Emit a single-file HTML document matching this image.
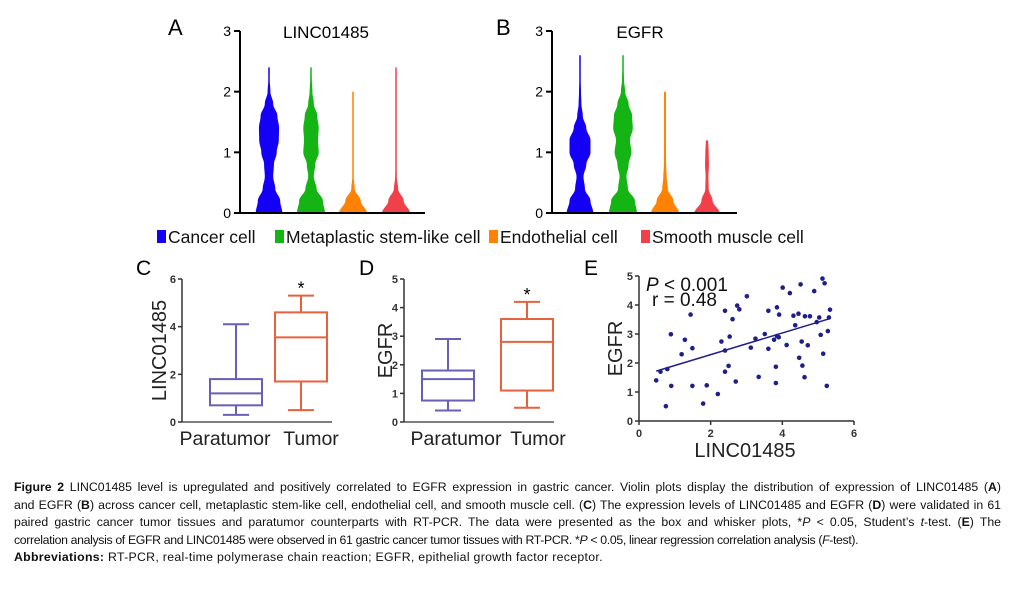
<!DOCTYPE html>
<html><head><meta charset="utf-8"><style>
body{margin:0;background:#fff;width:1013px;height:594px;overflow:hidden;position:relative;font-family:"Liberation Sans",Arial,sans-serif}
svg{position:absolute;left:0;top:0}
.cap{position:absolute;left:14px;width:987px;font-size:12.3px;line-height:17.5px;color:#111;white-space:nowrap}
.j{text-align:justify;text-align-last:justify;white-space:normal}
</style></head><body>
<svg id="fig" width="1013" height="594" viewBox="0 0 1013 594" font-family="Liberation Sans, Arial, sans-serif"></svg>
<div class="cap j" style="top:479px"><b>Figure 2</b> LINC01485 level is upregulated and positively correlated to EGFR expression in gastric cancer. Violin plots display the distribution of expression of LINC01485 (<b>A</b>)</div>
<div class="cap j" style="top:496.5px">and EGFR (<b>B</b>) across cancer cell, metaplastic stem-like cell, endothelial cell, and smooth muscle cell. (<b>C</b>) The expression levels of LINC01485 and EGFR (<b>D</b>) were validated in 61</div>
<div class="cap j" style="top:514px">paired gastric cancer tumor tissues and paratumor counterparts with RT-PCR. The data were presented as the box and whisker plots, *<i>P</i> &lt; 0.05, Student’s <i>t</i>-test. (<b>E</b>) The</div>
<div class="cap" style="top:531.5px;letter-spacing:-0.35px">correlation analysis of EGFR and LINC01485 were observed in 61 gastric cancer tumor tissues with RT-PCR. *<i>P</i> &lt; 0.05, linear regression correlation analysis (<i>F</i>-test).</div>
<div class="cap" style="top:549px;letter-spacing:0.3px"><b>Abbreviations:</b> RT-PCR, real-time polymerase chain reaction; EGFR, epithelial growth factor receptor.</div>
<script>
// ---- data ----
const cellTypes = ["Cancer cell","Metaplastic stem-like cell","Endothelial cell","Smooth muscle cell"];
const cellColors = ["#1400f5","#14b414","#ff8205","#f2404a"];
// violin width profiles sampled every 0.2 units from 0 (relative half-width)
const violinA = [
 [0.95,0.8,0.45,0.3,0.35,0.55,0.7,0.72,0.6,0.3,0.1,0.05,0.03],
 [1.0,0.85,0.4,0.2,0.3,0.55,0.5,0.55,0.45,0.2,0.1,0.06,0.04],
 [1.0,0.55,0.12,0.05,0.04,0.04,0.04,0.04,0.04,0.04,0.04],
 [1.0,0.55,0.15,0.06,0.05,0.05,0.05,0.05,0.05,0.05,0.05,0.05,0.05]
];
const violinB = [
 [0.95,0.75,0.35,0.25,0.45,0.75,0.75,0.45,0.2,0.1,0.07,0.05,0.04,0.03],
 [1.0,0.85,0.35,0.25,0.4,0.6,0.5,0.7,0.65,0.4,0.15,0.07,0.05,0.03],
 [1.0,0.6,0.2,0.12,0.08,0.07,0.07,0.07,0.07,0.07,0.07],
 [0.9,0.4,0.12,0.1,0.14,0.12,0.08]
];
const violinTicks = [0,1,2,3];
const boxGroups = ["Paratumor","Tumor"];
// [min, q1, median, q3, max]
const boxC = [[0.3,0.7,1.2,1.8,4.1],[0.5,1.7,3.55,4.6,5.3]];
const boxD = [[0.4,0.75,1.5,1.8,2.9],[0.5,1.1,2.8,3.6,4.2]];
const ticksC = [0,2,4,6];
const ticksD = [0,1,2,3,4,5];
const scatterX = [0.48,0.6,0.75,0.79,0.89,0.9,1.19,1.28,1.44,1.49,1.49,1.79,1.89,2.2,2.3,2.4,2.4,2.4,2.5,2.53,2.61,2.7,2.74,2.8,3.01,3.12,3.25,3.34,3.51,3.61,3.61,3.77,3.82,3.82,3.85,3.85,3.9,3.91,4.01,4.12,4.21,4.31,4.36,4.45,4.47,4.51,4.54,4.56,4.62,4.63,4.71,4.77,4.89,4.96,5.03,5.07,5.12,5.14,5.18,5.24,5.27,5.3,5.33];
const scatterY = [1.4,1.7,0.51,1.79,2.99,1.21,2.3,2.8,3.67,2.51,1.21,0.6,1.23,0.93,2.74,3.8,2.43,1.7,1.9,2.91,3.51,1.36,3.98,3.85,4.3,2.53,2.84,1.52,3.0,3.8,2.49,2.8,1.31,1.87,3.92,2.93,2.89,3.67,4.6,2.62,4.41,3.63,3.3,3.7,2.18,4.71,2.74,1.91,1.51,3.61,2.61,3.61,4.48,3.41,3.57,2.97,4.91,2.32,4.75,1.21,3.1,3.57,3.84];
const ticksEx = [0,2,4,6];
const ticksEy = [0,1,2,3,4,5];

// ---- helpers ----
const svg = document.getElementById('fig');
const NS = "http://www.w3.org/2000/svg";
function mk(tag, attrs, parent, text){
  const e = document.createElementNS(NS, tag);
  for (const k in attrs) e.setAttribute(k, attrs[k]);
  if (text !== undefined) e.textContent = text;
  (parent || svg).appendChild(e);
  return e;
}

// ---- violin panels ----
function violinPanel(opt){
  const g = mk('g', {});
  
  
  const y = v => opt.y0 - v * (opt.y0 - opt.y3) / 3;
  const lab = mk('text', {x: opt.letterX, y: 35, 'font-size': 22}, g, opt.letter);
  
  
  const t = mk('text', {x: opt.titleX, y: 38, 'font-size': 17, 'text-anchor': 'middle'}, g, opt.title);
  
  
  opt.data.forEach((prof, i) => {
    const cx = opt.centers[i];
    const hw = 14;
    const pts = [];
    for (let k = 0; k < prof.length - 1; k++) {
      for (let s = 0; s < 10; s++) {
        const f = s / 10, c = (1 - Math.cos(Math.PI * f)) / 2;
        const w = prof[k] * (1 - c) + prof[k+1] * c;
        pts.push([Math.max(w * hw, 0.75), y((k + f) * 0.2)]);
      }
    }
    pts.push([0.75, y((prof.length - 1) * 0.2)]);
    let d = '';
    pts.forEach((p, k) => { d += (k ? 'L' : 'M') + (cx + p[0]).toFixed(2) + ',' + p[1].toFixed(2); });
    for (let k = pts.length - 1; k >= 0; k--) d += 'L' + (cx - pts[k][0]).toFixed(2) + ',' + pts[k][1].toFixed(2);
    d += 'Z';
    const v = mk('path', {d, fill: cellColors[i]}, g);
    
    
  });
  mk('line', {x1: opt.ax, y1: y(3), x2: opt.ax, y2: y(0)+1, stroke: '#000', 'stroke-width': 2}, g);
  mk('line', {x1: opt.ax, y1: y(0), x2: opt.xEnd, y2: y(0), stroke: '#000', 'stroke-width': 2}, g);
  violinTicks.forEach(tk => {
    mk('line', {x1: opt.ax - 6, y1: y(tk), x2: opt.ax, y2: y(tk), stroke: '#000', 'stroke-width': 2}, g);
    const tl = mk('text', {x: opt.ax - 9, y: y(tk) + 5, 'font-size': 14, 'text-anchor': 'end'}, g, tk);
    
    
  });
}
violinPanel({name:'violin-panel-a', letter:'A', letterX:168, title:'LINC01485', titleX:326, ax:240, xEnd:425, y0:213, y3:31, centers:[269,311,353,396], data:violinA});
violinPanel({name:'violin-panel-b', letter:'B', letterX:496, title:'EGFR', titleX:640, ax:552, xEnd:737, y0:213, y3:31, centers:[580,623,665,707], data:violinB});

// legend
const legX = [157, 275, 489, 641];
cellTypes.forEach((c, i) => {
  const g = mk('g', {});
  
  
  mk('rect', {x: legX[i], y: 230, width: 9, height: 13, fill: cellColors[i]}, g);
  mk('text', {x: legX[i] + 11, y: 243, 'font-size': 17.5, fill: '#111'}, g, c);
});

// ---- box panels ----
const purple = '#6a5fb8', orange = '#e8603c';
function boxPanel(opt){
  const g = mk('g', {});
  
  
  const y = v => opt.y0 - v * (opt.y0 - opt.yTop) / opt.max;
  const lab = mk('text', {x: opt.letterX, y: 275, 'font-size': 21}, g, opt.letter);
  
  
  mk('line', {x1: opt.ax, y1: y(opt.max), x2: opt.ax, y2: y(0), stroke: '#333', 'stroke-width': 1.5}, g);
  mk('line', {x1: opt.ax, y1: y(0), x2: opt.ax + 150, y2: y(0), stroke: '#333', 'stroke-width': 1.2}, g);
  opt.ticks.forEach(tk => {
    mk('line', {x1: opt.ax - 4, y1: y(tk), x2: opt.ax, y2: y(tk), stroke: '#333', 'stroke-width': 1.5}, g);
    const tl = mk('text', {x: opt.ax - 6, y: y(tk) + 4, 'font-size': 11, 'font-weight': 'bold', 'text-anchor': 'end', fill: '#333'}, g, tk);
    
    
  });
  opt.data.forEach((b, i) => {
    const cx = opt.centers[i], hw = 26, col = i === 0 ? purple : orange;
    const bg = mk('g', {stroke: col, 'stroke-width': 2, fill: 'none'}, g);
    
    
    mk('line', {x1: cx, y1: y(b[0]), x2: cx, y2: y(b[1])}, bg);
    mk('line', {x1: cx, y1: y(b[3]), x2: cx, y2: y(b[4])}, bg);
    mk('line', {x1: cx - 13, y1: y(b[0]), x2: cx + 13, y2: y(b[0])}, bg);
    mk('line', {x1: cx - 13, y1: y(b[4]), x2: cx + 13, y2: y(b[4])}, bg);
    mk('rect', {x: cx - hw, y: y(b[3]), width: hw*2, height: y(b[1]) - y(b[3])}, bg);
    mk('line', {x1: cx - hw, y1: y(b[2]), x2: cx + hw, y2: y(b[2])}, bg);
    const xl = mk('text', {x: opt.labelX[i], y: 445, 'font-size': 19.5, 'text-anchor': 'middle', fill: '#222'}, g, boxGroups[i]);
    
    
    if (i === 1) {
      const s = mk('text', {x: cx, y: y(b[4]) - 1, 'font-size': 18, 'text-anchor': 'middle'}, g, '*');
      
      
    }
  });
  const yt = mk('text', {x: 0, y: 0, 'font-size': 20, 'text-anchor': 'middle', fill: '#222', transform: `translate(${opt.titleX},${(opt.y0+opt.yTop)/2}) rotate(-90)`}, g, opt.title);
  
  
}
boxPanel({name:'box-panel-c', letter:'C', letterX:136, title:'LINC01485', titleX:166, ax:182, y0:422, yTop:279, max:6, ticks:ticksC, centers:[236,301], labelX:[225,311], data:boxC});
boxPanel({name:'box-panel-d', letter:'D', letterX:359, title:'EGFR', titleX:392, ax:404, y0:422, yTop:279, max:5, ticks:ticksD, centers:[448,527], labelX:[456,538], data:boxD});

// ---- scatter E ----
(function(){
  const g = mk('g', {});
  
  
  const x0 = 639, x6 = 854, y0 = 421, y5 = 276;
  const X = v => x0 + v * (x6 - x0) / 6;
  const Y = v => y0 - v * (y0 - y5) / 5;
  const lab = mk('text', {x: 584, y: 275, 'font-size': 21}, g, 'E');
  
  
  mk('line', {x1: x0, y1: Y(5), x2: x0, y2: y0, stroke: '#333', 'stroke-width': 1.5}, g);
  mk('line', {x1: x0, y1: y0, x2: x6, y2: y0, stroke: '#333', 'stroke-width': 1.5}, g);
  ticksEy.forEach(t => {
    mk('line', {x1: x0 - 4, y1: Y(t), x2: x0, y2: Y(t), stroke: '#333', 'stroke-width': 1.5}, g);
    const tl = mk('text', {x: x0 - 6, y: Y(t) + 4, 'font-size': 11, 'font-weight': 'bold', 'text-anchor': 'end', fill: '#333'}, g, t);
    
    
  });
  ticksEx.forEach(t => {
    mk('line', {x1: X(t), y1: y0, x2: X(t), y2: y0 + 4, stroke: '#333', 'stroke-width': 1.5}, g);
    const tl = mk('text', {x: X(t), y: y0 + 16, 'font-size': 11, 'font-weight': 'bold', 'text-anchor': 'middle', fill: '#333'}, g, t);
    
    
  });
  scatterX.forEach((xv, i) => {
    const c = mk('circle', {cx: X(xv), cy: Y(scatterY[i]), r: 2.3, fill: '#1f1f8a'}, g);
    
    
  });
  const n = scatterX.length;
  const mx = scatterX.reduce((a,b)=>a+b,0)/n, my = scatterY.reduce((a,b)=>a+b,0)/n;
  let sxy = 0, sxx = 0;
  scatterX.forEach((xv,i)=>{ sxy += (xv-mx)*(scatterY[i]-my); sxx += (xv-mx)*(xv-mx); });
  const slope = sxy/sxx, icpt = my - slope*mx;
  const xa = Math.min(...scatterX), xb = Math.max(...scatterX);
  const ln = mk('line', {x1: X(xa), y1: Y(icpt+slope*xa), x2: X(xb), y2: Y(icpt+slope*xb), stroke: '#1f1f8a', 'stroke-width': 1.5}, g);
  
  
  const p = mk('text', {x: 646, y: 291, 'font-size': 19, fill: '#111'}, g);
  
  
  mk('tspan', {'font-style': 'italic'}, p, 'P');
  mk('tspan', {}, p, ' < 0.001');
  const r = mk('text', {x: 652, y: 306, 'font-size': 19, fill: '#111'}, g, 'r = 0.48');
  
  
  const yt = mk('text', {x: 0, y: 0, 'font-size': 20, 'text-anchor': 'middle', fill: '#222', transform: `translate(622,${(y0+y5)/2}) rotate(-90)`}, g, 'EGFR');
  
  
  const xt = mk('text', {x: 745, y: 457, 'font-size': 20, 'text-anchor': 'middle', fill: '#222'}, g, 'LINC01485');
  
  
})();
</script>
</body></html>
